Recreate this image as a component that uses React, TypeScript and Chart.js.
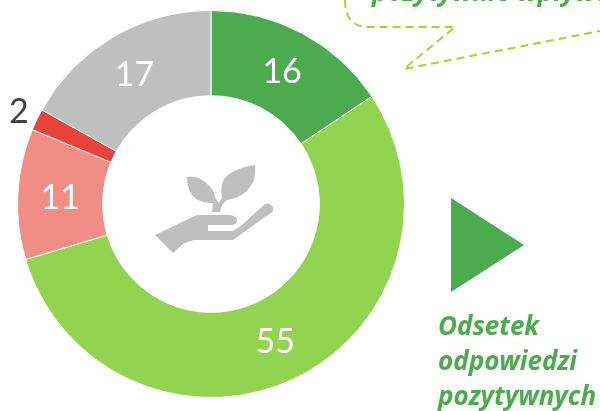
import React, { useEffect, useRef } from "react";
import { Chart, registerables } from "chart.js";

Chart.register(...registerables);

const categories = ["A", "B", "C", "D", "E"];
const values = [15.6, 54.7, 10.9, 1.8, 16.9];
const labels = ["16", "55", "11", "2", "17"];
const colors = ["#4BAB4E", "#92D350", "#F08E86", "#E8423A", "#BFBFBF"];
const labelColors = ["#FFFFFF", "#FFFFFF", "#FFFFFF", "#404040", "#FFFFFF"];

const labelPlugin = {
  id: "sliceLabels",
  afterDatasetsDraw(chart: any) {
    const arcs = chart.getDatasetMeta(0).data;
    const ctx = chart.ctx;
    ctx.save();
    ctx.font = "34px Lato";
    ctx.textAlign = "center";
    ctx.textBaseline = "middle";
    arcs.forEach((arc: any, i: number) => {
      const mid = (arc.startAngle + arc.endAngle) / 2;
      const r = i === 3 ? arc.outerRadius + 20 : (arc.innerRadius + arc.outerRadius) / 2;
      ctx.fillStyle = labelColors[i];
      ctx.fillText(labels[i], arc.x + Math.cos(mid) * r, arc.y + Math.sin(mid) * r + 1.5);
    });
    ctx.restore();
  },
};

export default function App() {
  const ref = useRef<HTMLCanvasElement>(null);
  useEffect(() => {
    const chart = new Chart(ref.current!, {
      type: "doughnut",
      data: {
        labels: categories,
        datasets: [{ data: values, backgroundColor: colors, borderColor: "#FFFFFF", borderWidth: 1 }],
      },
      options: {
        responsive: false,
        animation: false,
        cutout: "56%",
        layout: { padding: { left: 17, right: 195, top: 10, bottom: 13 } },
        plugins: { legend: { display: false }, tooltip: { enabled: false } },
      },
      plugins: [labelPlugin],
    });
    return () => chart.destroy();
  }, []);

  const green = "#4BAB4E";
  const textStyle: React.CSSProperties = {
    position: "absolute",
    fontFamily: "'Open Sans'",
    fontWeight: 700,
    fontStyle: "italic",
    color: green,
    whiteSpace: "nowrap",
    margin: 0,
  };

  return (
    <div style={{ position: "fixed", left: 0, top: 0, width: 600, height: 411, overflow: "hidden", background: "#fff" }}>
      <canvas ref={ref} width={600} height={411} style={{ position: "absolute", left: 0, top: 0 }} />
      <svg width={600} height={411} style={{ position: "absolute", left: 0, top: 0 }}>
        <path
          d="M345 0 C345 14 350 27 368 27 L455 27 L404 69 L600 31"
          fill="none"
          stroke="#A9D42C"
          strokeWidth={2}
          strokeDasharray="8 5"
        />
        <polygon points="451,198 524,245 451,292" fill={green} />
        <g fill="#BFBFBF">
          <path d="M155 235 L197 215 L230 215 Q237 216 237 220 Q237 225 230 225 L208 225 L208 231 L233 231 L242 225 L265 204 Q270 202 273 207 Q274 210 272 212 L233 240 L195 240 Q188 241 183 244 L173 253 Z" />
          <path d="M212 212 L213 203 Q203 203 196 199 Q187 192 187 177 Q198 176 205 182 Q215 190 215 198 L219 203 Q220 200 222 198 Q220 187 224 179 Q233 168 255 165 Q256 178 252 184 Q245 197 227 200 Q221 204 220 212 Z" />
        </g>
      </svg>
      <div style={{ ...textStyle, left: 372, top: -27, fontSize: 26 }}>pozytywnie wpływa</div>
      <div style={{ ...textStyle, left: 438, top: 308, fontSize: 26, lineHeight: "35px" }}>
        Odsetek
        <br />
        odpowiedzi
        <br />
        pozytywnych
      </div>
    </div>
  );
}
